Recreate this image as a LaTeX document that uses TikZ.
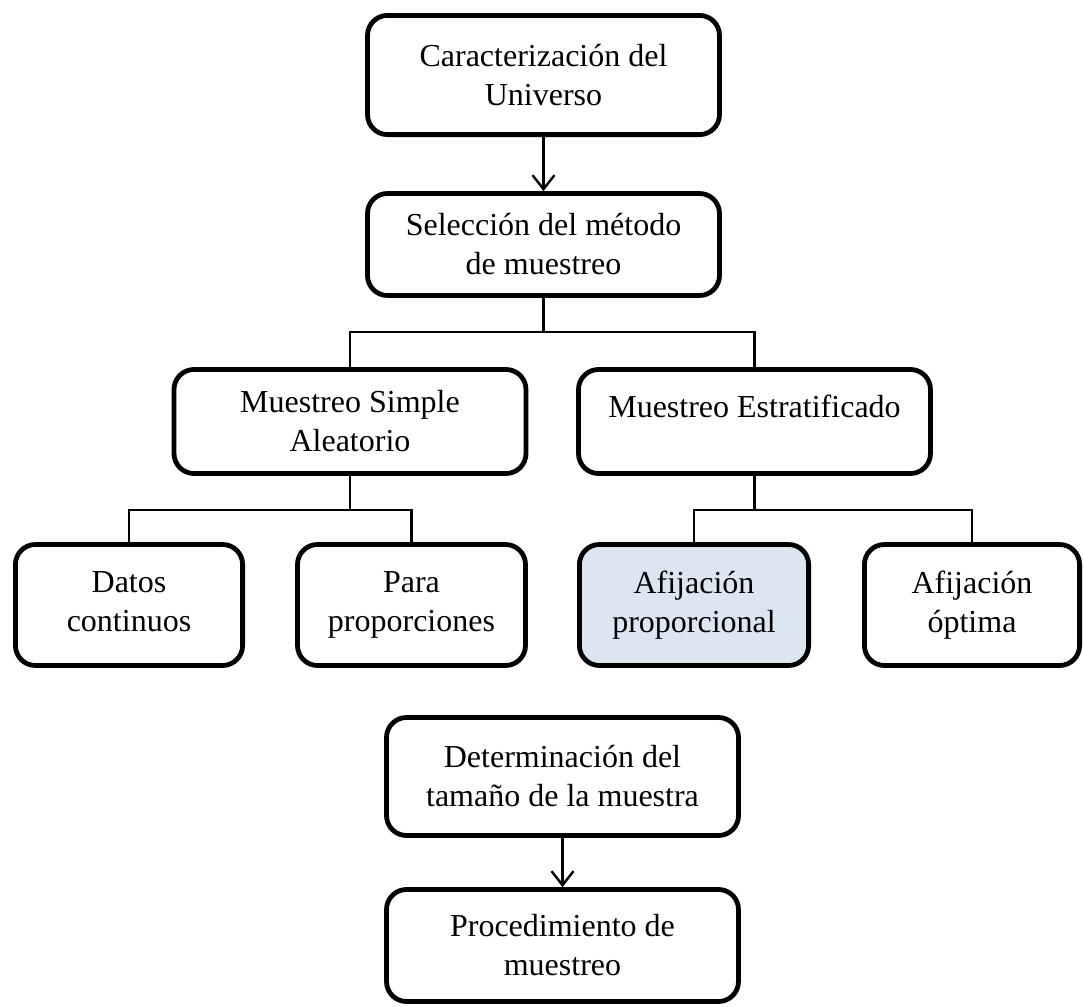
\documentclass[tikz,border=0pt]{standalone}
\usepackage{fontspec}
\setmainfont{Liberation Serif}
\usetikzlibrary{arrows.meta}
\definecolor{paleblue}{RGB}{220,230,242}

\begin{document}
\begin{tikzpicture}[x=0.5pt, y=-0.5pt,
    stage/.style={rectangle, rounded corners=10pt, draw=black, line width=2.4pt, fill=white,
        align=center, inner sep=0pt, font=\fontsize{16pt}{19.5pt}\selectfont},
    wide/.style={stage, minimum width=176pt, minimum height=#1},
    leaf/.style={stage, minimum width=#1, minimum height=60.5pt,
        execute at end node=\vphantom{p}},
    chosen/.style={fill=paleblue},
    >={Straight Barb[length=7pt,width=11pt]}
    ]
    \useasboundingbox (0,0) rectangle (1084,1007);

    % main line
    \node[wide=59.6pt] (caract) at (543.5,75) {Caracterización del\\Universo};
    \node[wide=51pt] (selec) at (543.5,244.5) {Selección del método\\de muestreo};

    % sampling methods
    \node[wide=52pt] (msa) at (350,421.5) {Muestreo Simple\\Aleatorio};
    \node[wide=52pt, text height=11pt, text depth=15.5pt] (mest) at (754.5,421.5) {Muestreo Estratificado};

    % leaves
    \node[leaf=113.6pt] (datos) at (129,605) {Datos\\continuos};
    \node[leaf=114pt] (para) at (411.5,605) {Para\\proporciones};
    \node[leaf=114.6pt, chosen] (afprop) at (694,605) {Afijación\\proporcional};
    \node[leaf=107.6pt] (afopt) at (972,605) {Afijación\\óptima};

    % sample size
    \node[wide=59pt] (deter) at (562.5,776.5) {Determinación del\\tamaño de la muestra};
    \node[wide=56pt] (proc) at (562.5,945.5) {Procedimiento de\\muestreo};

    % tree connectors
    \foreach \p/\c in {selec/msa, selec/mest, msa/datos, msa/para, mest/afprop, mest/afopt} {
        \draw[line width=1.2pt] (\p.south) -- ++(0,34) -| (\c.north);
    }

    \path[every edge/.style={draw, line width=1.2pt}, ->]
    (caract) edge (selec)
    (deter) edge (proc)
    ;
\end{tikzpicture}
\end{document}
